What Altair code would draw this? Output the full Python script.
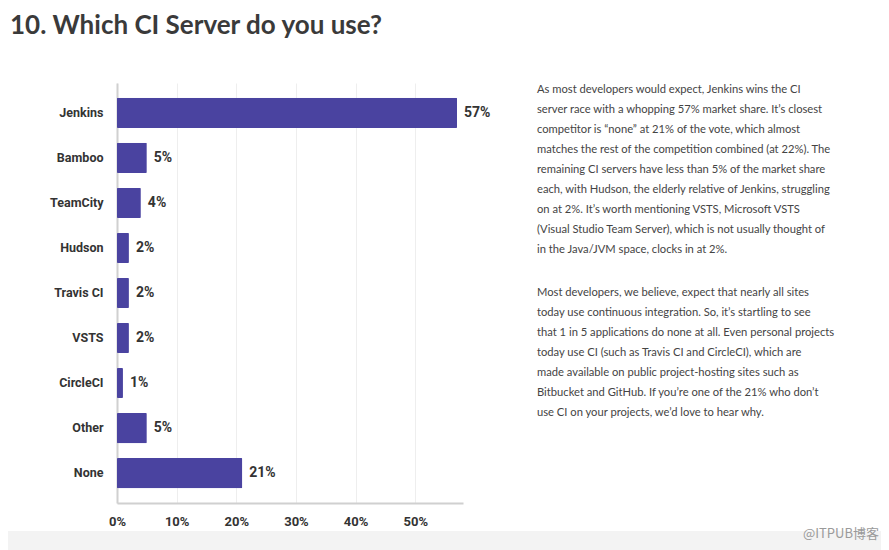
import altair as alt
import pandas as pd

servers = ["Jenkins", "Bamboo", "TeamCity", "Hudson", "Travis CI", "VSTS", "CircleCI", "Other", "None"]
shares = [57, 5, 4, 2, 2, 2, 1, 5, 21]
x_ticks = [0, 10, 20, 30, 40, 50]

title_text = "10. Which CI Server do you use?"
para1 = [
    "As most developers would expect, Jenkins wins the CI",
    "server race with a whopping 57% market share. It\u2019s closest",
    "competitor is \u201cnone\u201d at 21% of the vote, which almost",
    "matches the rest of the competition combined (at 22%). The",
    "remaining CI servers have less than 5% of the market share",
    "each, with Hudson, the elderly relative of Jenkins, struggling",
    "on at 2%. It\u2019s worth mentioning VSTS, Microsoft VSTS",
    "(Visual Studio Team Server), which is not usually thought of",
    "in the Java/JVM space, clocks in at 2%.",
]
para2 = [
    "Most developers, we believe, expect that nearly all sites",
    "today use continuous integration. So, it\u2019s startling to see",
    "that 1 in 5 applications do none at all. Even personal projects",
    "today use CI (such as Travis CI and CircleCI), which are",
    "made available on public project-hosting sites such as",
    "Bitbucket and GitHub. If you\u2019re one of the 21% who don\u2019t",
    "use CI on your projects, we\u2019d love to hear why.",
]
watermark = "@ITPUB博客"

df = pd.DataFrame({"server": servers, "share": shares})
one = pd.DataFrame({"k": [0]})

BAR = "#4A43A0"
FONT = "Roboto"

y_enc = alt.Y("server:N", sort=servers,
              scale=alt.Scale(paddingInner=0.33, paddingOuter=0.33),
              axis=alt.Axis(title=None, ticks=False, domain=True, domainColor="#d0d0d0",
                            domainWidth=2, labelFont=FONT, labelFontWeight="bold",
                            labelFontSize=12.5, labelColor="#333333", labelPadding=14))
x_enc = alt.X("share:Q", scale=alt.Scale(domain=[0, 58], nice=False),
              axis=alt.Axis(title=None, values=x_ticks, ticks=False, domainColor="#d0d0d0",
                            domainWidth=2, gridColor="#eeeeee", labelFont=FONT,
                            labelFontWeight="bold", labelFontSize=13, labelColor="#333333",
                            labelPadding=12, labelFlush=False, labelExpr="datum.value + '%'"))

band = alt.Chart(one).mark_rect(color="#f3f3f3").encode(
    x=alt.value(-117), x2=alt.value(772), y=alt.value(448), y2=alt.value(470))
bars = alt.Chart(df).mark_bar(color=BAR, cornerRadius=1).encode(x=x_enc, y=y_enc)
labels = alt.Chart(df).mark_text(align="left", dx=7, font=FONT, fontWeight="bold",
                                 fontSize=14, color="#333333").encode(
    x="share:Q", y=alt.Y("server:N", sort=servers),
    text=alt.Text("label:N")).transform_calculate(label="datum.share + '%'")

title = alt.Chart(one).mark_text(text=title_text, align="left", baseline="middle",
                                 font="Lato", fontWeight="bold", fontSize=26,
                                 color="#3a3a3a").encode(x=alt.value(-107), y=alt.value(-57))
p1 = alt.Chart(one).mark_text(text=para1, align="left", baseline="middle", lineHeight=20,
                              font="Lato", fontSize=11.2, color="#444444").encode(
    x=alt.value(420), y=alt.value(7))
p2 = alt.Chart(one).mark_text(text=para2, align="left", baseline="middle", lineHeight=20,
                              font="Lato", fontSize=11.2, color="#444444").encode(
    x=alt.value(420), y=alt.value(210))
wm = alt.Chart(one).mark_text(text=watermark, align="right", baseline="middle",
                              font="Noto Sans CJK SC", fontSize=13, color="#9a9a9a").encode(
    x=alt.value(762), y=alt.value(451))

chart = alt.layer(band, bars, labels, title, p1, p2, wm).properties(
    width=346, height=420,
    autosize=alt.AutoSizeParams(type="none"),
    padding={"left": 109, "top": 75, "right": 418, "bottom": 47},
).configure(background="white", view=alt.ViewConfig(stroke=None))

chart.save("out.html", embed_options={"renderer": "svg", "actions": False})
